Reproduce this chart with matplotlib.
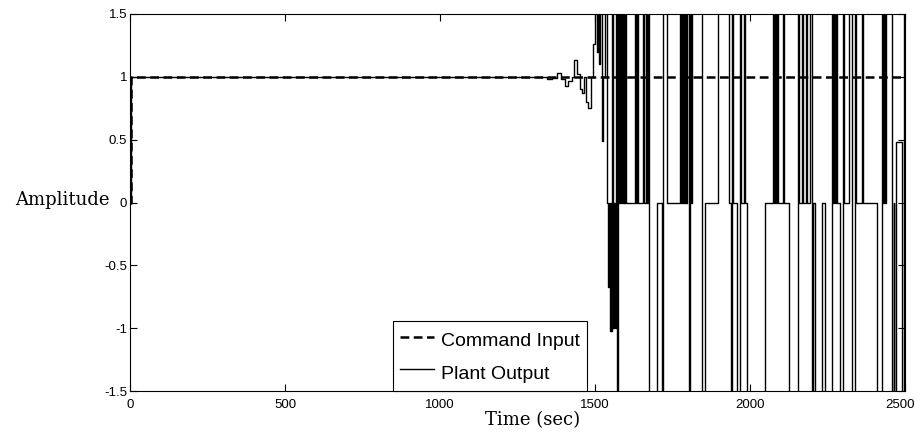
import numpy as np
import matplotlib.pyplot as plt
from matplotlib.transforms import ScaledTranslation

# command input (unit step)
cmd_t = [0, 3, 2500]
cmd_v = [0.0, 1.0, 1.0]

# plant output, each value held until the next time (values beyond +-1.5 are off scale)
plant_t = [0, 3, 1300, 1330, 1345, 1360, 1377, 1390, 1403, 1413, 1425, 1432, 1442, 1450,
           1458, 1465, 1470, 1478, 1486, 1492, 1500, 1505, 1508, 1512, 1515, 1523, 1527,
           1531, 1539, 1543, 1546, 1548, 1551, 1553, 1556, 1559, 1562, 1565, 1568, 1571,
           1574, 1577, 1580, 1583, 1586, 1589, 1592, 1595, 1598, 1601, 1629, 1633, 1636,
           1640, 1655, 1659, 1663, 1667, 1671, 1674, 1700, 1716, 1719, 1732, 1774, 1777,
           1780, 1783, 1786, 1789, 1792, 1795, 1798, 1803, 1807, 1810, 1813, 1845, 1855,
           1897, 1932, 1939, 1942, 1946, 1958, 1968, 1972, 1981, 1985, 1990, 2048, 2074,
           2077, 2080, 2084, 2087, 2091, 2106, 2110, 2126, 2155, 2158, 2168, 2171, 2181,
           2185, 2194, 2200, 2203, 2210, 2232, 2242, 2265, 2268, 2271, 2274, 2277, 2281,
           2290, 2300, 2304, 2319, 2329, 2339, 2343, 2361, 2365, 2410, 2426, 2429, 2432,
           2435, 2438, 2459, 2463, 2466, 2470, 2490, 2496, 2500]
plant_v = [0.0, 1.0, 0.995, 1.0, 0.985, 0.99, 1.03, 0.98, 0.93, 0.97, 1.0, 1.13, 1.02, 0.9,
           0.87, 1.0, 0.8, 0.75, 1.0, 1.26, 3, 1.2, 3, 1.1, 3, 0.49, 1.0,
           3, 0, -0.67, 0, -1.02, 0, -1.02, 3, -1.0, 0, -1.0, 3, -3,
           3, 0, 3, 0, 3, 0, 3, 0, 3, 0, 3, 0, 3,
           0, 3, 0, 3, 0, 3, -3, 0, -3, 3, 0, 3, 0,
           3, 0, 3, 0, 3, 0, 3, -3, 3, 0, 3, -3, 0,
           3, 0, -3, 3, 0, -3, 3, 0, 3, 0, -3, 0, 3,
           0, 3, 0, 3, 0, 3, 0, -3, 3, 0, 3, 0, 3,
           0, 3, -3, 0, -3, 0, -3, 3, 0, 3, 0, 3, 0,
           -3, 3, 0, 3, -3, 3, 0, 3, 0, -3, 3, 0, 3,
           0, 3, -3, 0, -3, 0.48, -3, 3, 3]

x_ticks = [0, 500, 1000, 1500, 2000, 2500]
y_ticks = [-1.5, -1, -0.5, 0, 0.5, 1, 1.5]
y_ticklabels = ['-1.5', '-1', '-0.5', '0', '0.5', '1', '1.5']

fig = plt.figure(figsize=(9.15, 4.32), dpi=100)
ax = fig.add_axes([0.1421, 0.0949, 0.847, 0.8727])

ax.plot(cmd_t, cmd_v, color='black', lw=1.8, ls=(0, (3.5, 1.8)),
        drawstyle='steps-post', label='Command Input', zorder=3)
ax.plot(plant_t, plant_v, color='black', lw=1.0, drawstyle='steps-post',
        label='Plant Output', zorder=2)

ax.set_xlim(0, 2500)
ax.set_ylim(-1.5, 1.5)
ax.set_xticks(x_ticks)
ax.set_yticks(y_ticks)
ax.set_yticklabels(y_ticklabels)
ax.tick_params(direction='in', top=True, right=True, length=5, width=0.8,
               labelsize=9.5, colors='black')
ax.tick_params(axis='x', pad=5.5)
ax.tick_params(axis='y', pad=2)
for lab in ax.get_xticklabels() + ax.get_yticklabels():
    lab.set_family(['Liberation Sans Narrow', 'Liberation Sans'])
# last x label sits against the right edge, nudge it left a little
last = ax.get_xticklabels()[-1]
last.set_transform(last.get_transform() + ScaledTranslation(-5 / 100, 0, fig.dpi_scale_trans))
for sp in ax.spines.values():
    sp.set_linewidth(0.8)

ax.set_xlabel('Time (sec)', family='DejaVu Serif', fontsize=13)
ax.xaxis.set_label_coords(0.52, -0.054)
ax.set_ylabel('Amplitude', family='DejaVu Serif', fontsize=13, rotation=0,
              ha='right', va='center')
ax.yaxis.set_label_coords(-0.026, 0.507)

leg = ax.legend(loc='lower left', bbox_to_anchor=(0.339, 0.0), borderaxespad=0,
                prop={'family': 'Liberation Sans', 'size': 14}, fancybox=False,
                framealpha=1, edgecolor='black', handlelength=1.75,
                handleheight=1.5, handletextpad=0.36, labelspacing=0.45,
                borderpad=0.36)
leg.get_frame().set_linewidth(0.8)

fig.savefig('out.png', dpi=100)
